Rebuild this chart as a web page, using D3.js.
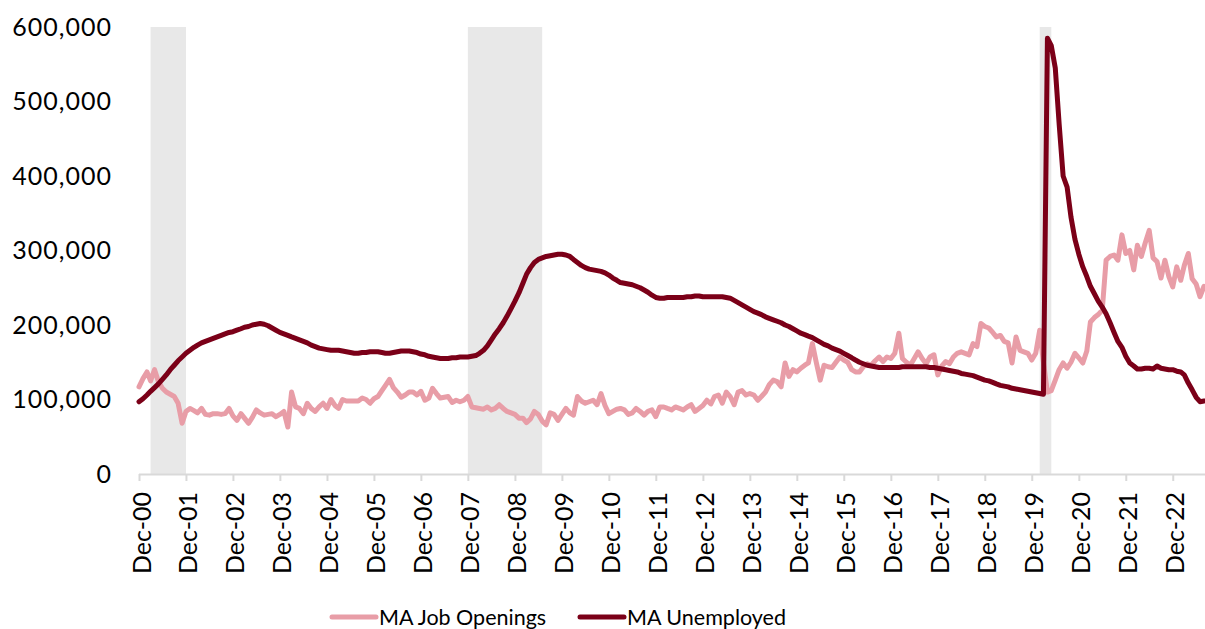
<!DOCTYPE html>
<html>
<head>
<meta charset="utf-8">
<script src="https://cdn.jsdelivr.net/npm/d3@7"></script>
<style>
  body { margin: 0; background: #fff; }
  svg { display: block; font-family: Lato, "Open Sans", sans-serif; }
</style>
</head>
<body>
<div id="chart"></div>
<script>
// monthly series, Dec 2000 .. Aug 2023 (thousands)
const firstMonth = new Date(2000, 11, 1);
const lastMonth = new Date(2023, 7, 1);

const jobOpenings = [
  117,
  128, 137, 125, 140, 124, 115, 110, 107, 104, 95, 68, 84,      // 2001
  88, 85, 82, 88, 80, 79, 81, 81, 80, 81, 88, 78,               // 2002
  72, 81, 75, 68, 76, 86, 82, 79, 80, 81, 77, 80,               // 2003
  84, 63, 110, 90, 88, 81, 95, 88, 84, 90, 95, 88,              // 2004
  100, 92, 88, 100, 98, 98, 98, 98, 102, 100, 95, 101,          // 2005
  104, 112, 119, 127, 116, 110, 103, 106, 110, 110, 106, 111,   // 2006
  99, 102, 115, 108, 102, 103, 104, 96, 99, 97, 99, 104,        // 2007
  90, 89, 88, 87, 90, 86, 88, 93, 88, 84, 82, 80,               // 2008
  75, 75, 69, 74, 84, 80, 71, 66, 82, 80, 72, 80,               // 2009
  88, 82, 79, 104, 98, 95, 97, 99, 93, 108, 92, 81,             // 2010
  84, 87, 88, 86, 80, 82, 88, 84, 79, 84, 86, 77,               // 2011
  90, 90, 88, 86, 90, 88, 86, 90, 93, 84, 88, 92,               // 2012
  99, 94, 104, 106, 95, 110, 104, 93, 110, 112, 106, 108,       // 2013
  106, 99, 104, 110, 120, 126, 124, 117, 149, 131, 140, 137,    // 2014
  142, 146, 149, 175, 150, 126, 146, 144, 143, 150, 157, 153,   // 2015
  150, 140, 137, 137, 144, 148, 146, 152, 157, 151, 157, 155,   // 2016
  162, 189, 155, 150, 146, 155, 164, 155, 148, 157, 160, 133,   // 2017
  145, 151, 148, 157, 162, 164, 162, 160, 175, 171, 202, 198,   // 2018
  196, 190, 184, 186, 178, 176, 149, 184, 166, 164, 162, 153,   // 2019
  162, 193, 150, 110, 112, 126, 140, 149, 142, 150, 162, 156,   // 2020
  149, 165, 204, 210, 214, 220, 287, 292, 294, 287, 321, 296,   // 2021
  300, 274, 307, 292, 310, 327, 290, 285, 263, 287, 265, 251,   // 2022
  278, 260, 280, 296, 262, 255, 238, 252                        // 2023
];

const unemployed = [
  97,
  101, 106, 111, 116, 121, 127, 133, 140, 146, 152, 157, 162,   // 2001
  166, 170, 173, 176, 178, 180, 182, 184, 186, 188, 190, 191,   // 2002
  193, 195, 197, 198, 200, 201, 202, 201, 199, 196, 193, 190,   // 2003
  188, 186, 184, 182, 180, 178, 176, 173, 171, 169, 168, 167,   // 2004
  166, 166, 166, 165, 164, 163, 162, 162, 163, 163, 164, 164,   // 2005
  164, 163, 162, 162, 163, 164, 165, 165, 165, 164, 163, 161,   // 2006
  160, 158, 157, 156, 155, 155, 155, 156, 156, 157, 157, 157,   // 2007
  158, 159, 162, 166, 172, 180, 188, 195, 203, 212, 222, 232,   // 2008
  243, 256, 268, 277, 284, 288, 290, 292, 293, 294, 295, 295,   // 2009
  294, 292, 288, 284, 280, 277, 275, 274, 273, 272, 270, 267,   // 2010
  263, 260, 257, 256, 255, 254, 252, 250, 247, 244, 240, 237,   // 2011
  236, 236, 237, 237, 237, 237, 237, 238, 238, 239, 239, 238,   // 2012
  238, 238, 238, 238, 238, 237, 236, 233, 230, 227, 224, 221,   // 2013
  218, 216, 214, 211, 209, 207, 205, 203, 200, 198, 195, 192,   // 2014
  189, 187, 185, 183, 180, 177, 174, 172, 169, 167, 165, 162,   // 2015
  159, 156, 153, 150, 148, 146, 145, 144, 143, 143, 143, 143,   // 2016
  143, 143, 144, 144, 144, 144, 144, 144, 144, 143, 143, 142,   // 2017
  141, 140, 139, 138, 137, 135, 134, 133, 132, 130, 128, 126,   // 2018
  125, 123, 121, 119, 118, 117, 115, 114, 113, 112, 111, 110,   // 2019
  109, 108, 107, 585, 575, 545, 470, 400, 385, 345, 315, 295,   // 2020
  278, 265, 252, 242, 232, 224, 215, 203, 190, 178, 170, 158,   // 2021
  149, 145, 141, 141, 142, 142, 141, 145, 142, 141, 140, 140,   // 2022
  138, 137, 133, 122, 113, 103, 97, 98                          // 2023
];

const recessions = [
  ["2001-03", "2001-12"],
  ["2007-12", "2009-07"],
  ["2020-02", "2020-05"]
];

const yTicks = [0, 100000, 200000, 300000, 400000, 500000, 600000];
const xTickLabels = ["Dec-00", "Dec-01", "Dec-02", "Dec-03", "Dec-04", "Dec-05", "Dec-06",
  "Dec-07", "Dec-08", "Dec-09", "Dec-10", "Dec-11", "Dec-12", "Dec-13", "Dec-14",
  "Dec-15", "Dec-16", "Dec-17", "Dec-18", "Dec-19", "Dec-20", "Dec-21", "Dec-22"];

const seriesNames = ["MA Job Openings", "MA Unemployed"];
const seriesColors = ["#e89da7", "#7b0018"];

let width = 1205,
    height = 629;

let months = d3.timeMonth.range(firstMonth, d3.timeMonth.offset(lastMonth, 1));
let parseMonth = d3.timeParse("%Y-%m");

let svg = d3.select("#chart").append("svg")
  .attr("width", width)
  .attr("height", height);

let x = d3.scaleTime()
  .domain([firstMonth, lastMonth])
  .range([139, 1204]);

let y = d3.scaleLinear()
  .domain([0, 600000])
  .range([474, 27]);

// recession shading
svg.append("g")
  .selectAll("rect")
  .data(recessions)
  .enter().append("rect")
    .attr("x", d => x(parseMonth(d[0])))
    .attr("width", d => x(parseMonth(d[1])) - x(parseMonth(d[0])))
    .attr("y", y(600000))
    .attr("height", y(0) - y(600000))
    .attr("fill", "#e8e8e8");

// y axis (labels only)
let yAxis = svg.append("g")
  .attr("transform", "translate(139,0)")
  .call(d3.axisLeft(y)
    .tickValues(yTicks)
    .tickSize(0)
    .tickPadding(27)
    .tickFormat(d3.format(",")));
yAxis.select(".domain").remove();
yAxis.selectAll("text")
  .attr("font-family", "Lato, sans-serif")
  .attr("font-size", 25)
  .attr("letter-spacing", 1)
  .attr("fill", "#000");

// x axis
let decTicks = months.filter(d => d.getMonth() === 11 && d.getFullYear() <= 2022);
let xAxis = svg.append("g")
  .attr("transform", "translate(0,474)")
  .call(d3.axisBottom(x)
    .tickValues(decTicks)
    .tickSize(7)
    .tickSizeOuter(0)
    .tickFormat((d, i) => xTickLabels[i]));
xAxis.select(".domain")
  .attr("d", "M139,0.5H1205")
  .attr("stroke", "#d9d9d9")
  .attr("stroke-width", 2);
xAxis.selectAll(".tick line")
  .attr("stroke", "#d9d9d9")
  .attr("stroke-width", 2);
xAxis.selectAll("text")
  .attr("font-family", "Lato, sans-serif")
  .attr("font-size", 25)
  .attr("fill", "#000")
  .attr("transform", "rotate(-90)")
  .attr("text-anchor", "end")
  .attr("x", -18)
  .attr("y", 0)
  .attr("dy", "0.44em");

// lines
let line = d3.line()
  .x((d, i) => x(months[i]))
  .y(d => y(d * 1000));

[jobOpenings, unemployed].forEach((series, k) => {
  svg.append("path")
    .datum(series)
    .attr("fill", "none")
    .attr("stroke", seriesColors[k])
    .attr("stroke-width", 5)
    .attr("stroke-linejoin", "round")
    .attr("stroke-linecap", "round")
    .attr("d", line);
});

// legend
let legendX = [332, 580];
let legend = svg.append("g")
  .selectAll("g")
  .data(seriesNames)
  .enter().append("g")
    .attr("transform", (d, i) => `translate(${legendX[i]},617)`);

legend.append("line")
  .attr("x1", 0)
  .attr("x2", 44)
  .attr("stroke", (d, i) => seriesColors[i])
  .attr("stroke-width", 5)
  .attr("stroke-linecap", "round");

legend.append("text")
  .attr("x", 47)
  .attr("y", 8)
  .attr("font-family", "Lato, sans-serif")
  .attr("font-size", 21.5)
  .attr("fill", "#000")
  .text(d => d);
</script>
</body>
</html>
